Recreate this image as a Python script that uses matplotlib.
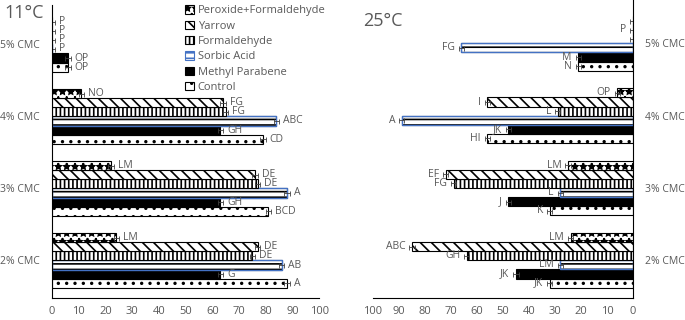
import numpy as np
import matplotlib
matplotlib.use('Agg')
from matplotlib import pyplot as plt
from matplotlib.patches import Patch

plt.rcParams['font.family'] = ['Open Sans', 'DejaVu Sans']
plt.rcParams['hatch.linewidth'] = 1.2

groups = ['2% CMC', '3% CMC', '4% CMC', '5% CMC']
series = ['Control', 'Methyl Parabene', 'Sorbic Acid', 'Formaldehyde', 'Yarrow', 'Peroxide+Formaldehyde']

# 11°C, values per group (2%, 3%, 4%, 5% CMC)
control_11 = [88, 81, 79, 6]
methyl_11 = [63, 63, 63, 6]
sorbic_11 = [86, 88, 84, 0]
formal_11 = [75, 77, 65, 0]
yarrow_11 = [77, 76, 64, 0]
perox_11 = [24, 22, 11, 0]

letters_control_11 = ['A', 'BCD', 'CD', 'OP']
letters_methyl_11 = ['G', 'GH', 'GH', 'OP']
letters_sorbic_11 = ['AB', 'A', 'ABC', 'P']
letters_formal_11 = ['DE', 'DE', 'FG', 'P']
letters_yarrow_11 = ['DE', 'DE', 'FG', 'P']
letters_perox_11 = ['LM', 'LM', 'NO', 'P']

# 25°C
control_25 = [32, 32, 56, 21]
methyl_25 = [45, 48, 48, 21]
sorbic_25 = [28, 28, 89, 66]
formal_25 = [64, 69, 29, 0]
yarrow_25 = [85, 72, 56, 0]
perox_25 = [24, 25, 6, 0]

letters_control_25 = ['JK', 'K', 'HI', 'N']
letters_methyl_25 = ['JK', 'J', 'JK', 'M']
letters_sorbic_25 = ['LM', 'L', 'A', 'FG']
letters_formal_25 = ['GH', 'FG', 'L', '']
letters_yarrow_25 = ['ABC', 'EF', 'I', 'P']
letters_perox_25 = ['LM', 'LM', 'OP', '']

err = 1.0

styles = [
    dict(facecolor='white', edgecolor='black', hatch='..'),
    dict(facecolor='black', edgecolor='black', hatch=None),
    dict(facecolor='white', edgecolor='black', hatch='---'),
    dict(facecolor='white', edgecolor='black', hatch='||||'),
    dict(facecolor='white', edgecolor='black', hatch='\\\\\\'),
    dict(facecolor='white', edgecolor='black', hatch='**'),
]
blue = '#4472C4'
gray = '#595959'


def draw_panel(ax, data, letters, flip):
    h = 0.126
    y0 = np.arange(len(groups))
    for k, (vals, labs, st) in enumerate(zip(data, letters, styles)):
        y = y0 + (k - 2.5) * h
        ax.barh(y, vals, height=h, linewidth=0.8, **st)
        if series[k] == 'Sorbic Acid':
            ax.barh(y, vals, height=h, fill=False, edgecolor=blue, linewidth=1.0)
        ax.errorbar(vals, y, xerr=err, fmt='none', ecolor='#404040',
                    elinewidth=0.6, capsize=1.8, capthick=0.6)
        for v, yy, t in zip(vals, y, labs):
            ax.text(v + err + 1.5, yy, t, ha='right' if flip else 'left',
                    va='center', fontsize=7.5, color=gray)
    ax.set_ylim(-0.52, 3.55)
    ax.set_xlim(0, 100)
    ax.set_xticks(range(0, 101, 10))
    ax.set_yticks(y0)
    ax.set_yticklabels(groups)
    ax.tick_params(length=0, labelsize=8, colors=gray, pad=6)
    ax.tick_params(axis='y', labelsize=7.5, pad=9)
    for s in ['top', 'right', 'left', 'bottom']:
        ax.spines[s].set_visible(False)
    ax.spines['bottom'].set_visible(True)
    ax.spines['bottom'].set_color('black')
    if flip:
        ax.invert_xaxis()
        ax.spines['right'].set_visible(True)
        ax.yaxis.tick_right()
    else:
        ax.spines['left'].set_visible(True)


fig = plt.figure(figsize=(6.85, 3.2), dpi=100)
ax1 = fig.add_axes([0.076, 0.069, 0.390, 0.916])
ax2 = fig.add_axes([0.5445, 0.069, 0.3795, 0.931])

draw_panel(ax1, [control_11, methyl_11, sorbic_11, formal_11, yarrow_11, perox_11],
           [letters_control_11, letters_methyl_11, letters_sorbic_11,
            letters_formal_11, letters_yarrow_11, letters_perox_11], False)
draw_panel(ax2, [control_25, methyl_25, sorbic_25, formal_25, yarrow_25, perox_25],
           [letters_control_25, letters_methyl_25, letters_sorbic_25,
            letters_formal_25, letters_yarrow_25, letters_perox_25], True)
ax2.set_ylim(-0.52, 3.6)

fig.text(0.007, 0.96, '11°C', fontsize=13, color=gray, va='center')
fig.text(0.53, 0.935, '25°C', fontsize=13, color=gray, va='center')

handles = []
for k in range(len(series) - 1, -1, -1):
    st = dict(styles[k])
    if series[k] == 'Sorbic Acid':
        st['edgecolor'] = blue
    handles.append(Patch(label=series[k], linewidth=0.8, **st))
leg = ax1.legend(handles=handles, loc='upper left', bbox_to_anchor=(0.47, 1.025),
                 frameon=False, fontsize=8, handlelength=0.8, handleheight=0.8,
                 handletextpad=0.3, labelspacing=0.38, borderpad=0.2)
for t in leg.get_texts():
    t.set_color(gray)

fig.savefig('out.png', dpi=100)
